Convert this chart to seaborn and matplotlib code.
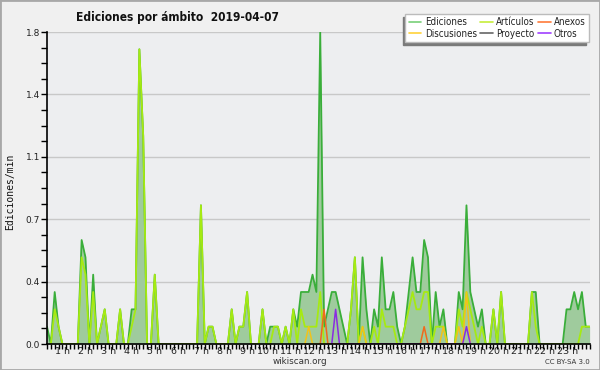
import numpy as np
import pandas as pd
import matplotlib
matplotlib.use("Agg")
import matplotlib.pyplot as plt
import matplotlib.transforms as mtransforms
from matplotlib.lines import Line2D
from matplotlib.patches import Rectangle
import seaborn as sns

# ---- data: 10-minute bins (edits per minute), 00:00 .. 23:30 ----
ediciones = [
    0.1, 0, 0.3, 0.1, 0, 0,        # 0 h
    0, 0, 0, 0.6, 0.5, 0,          # 1 h
    0.4, 0, 0.1, 0.2, 0, 0,        # 2 h
    0, 0.2, 0, 0, 0.2, 0.2,        # 3 h
    1.7, 1.2, 0, 0, 0.4, 0,        # 4 h
    0, 0, 0, 0, 0, 0,              # 5 h
    0, 0, 0, 0, 0.8, 0,            # 6 h
    0.1, 0.1, 0, 0, 0, 0,          # 7 h
    0.2, 0, 0.1, 0.1, 0.3, 0,      # 8 h
    0, 0, 0.2, 0, 0.1, 0.1,        # 9 h
    0.1, 0, 0.1, 0, 0.2, 0.1,      # 10 h
    0.3, 0.3, 0.3, 0.4, 0.3, 1.8,  # 11 h
    0.1, 0.2, 0.3, 0.3, 0.2, 0.1,  # 12 h
    0, 0.2, 0.5, 0, 0.5, 0.2,      # 13 h
    0, 0.2, 0.1, 0.5, 0.2, 0.2,    # 14 h
    0.3, 0.1, 0, 0.1, 0.3, 0.5,    # 15 h
    0.3, 0.3, 0.6, 0.5, 0, 0.3,    # 16 h
    0.1, 0.2, 0, 0, 0, 0.3,        # 17 h
    0.2, 0.8, 0.3, 0.2, 0.1, 0.2,  # 18 h
    0, 0, 0.2, 0, 0.3, 0,          # 19 h
    0, 0, 0, 0, 0, 0,              # 20 h
    0.3, 0.3, 0, 0, 0, 0,          # 21 h
    0, 0, 0, 0.2, 0.2, 0.3,        # 22 h
    0.2, 0.3, 0.1, 0.1,            # 23 h
]
articulos = [
    0, 0, 0.2, 0.1, 0, 0,
    0, 0, 0, 0.5, 0.4, 0,
    0.3, 0, 0.1, 0.2, 0, 0,
    0, 0.2, 0, 0, 0.1, 0.2,
    1.7, 1.2, 0, 0, 0.4, 0,
    0, 0, 0, 0, 0, 0,
    0, 0, 0, 0, 0.8, 0,
    0.1, 0.1, 0, 0, 0, 0,
    0.2, 0, 0.1, 0.1, 0.3, 0,
    0, 0, 0.2, 0, 0, 0.1,
    0.1, 0, 0.1, 0, 0.2, 0,
    0.2, 0.1, 0.1, 0.1, 0.1, 0.3,
    0, 0, 0, 0, 0, 0,
    0, 0.2, 0.5, 0, 0.1, 0,
    0, 0.1, 0, 0.2, 0.1, 0.1,
    0.1, 0, 0, 0.1, 0.2, 0.3,
    0.2, 0.2, 0.3, 0.3, 0, 0.1,
    0.1, 0.1, 0, 0, 0, 0.2,
    0.1, 0.3, 0.2, 0.1, 0, 0.1,
    0, 0, 0.2, 0, 0.3, 0,
    0, 0, 0, 0, 0, 0,
    0.3, 0.1, 0, 0, 0, 0,
    0, 0, 0, 0, 0, 0,
    0, 0.1, 0.1, 0.1,
]
discusiones_bins = [68, 82, 103, 107, 109]
discusiones_vals = [0.1, 0.1, 0.1, 0.1, 0.3]
anexos_bins = [72, 98]
anexos_vals = [0.2, 0.1]
otros_bins = [75, 109]
otros_vals = [0.2, 0.1]
proyecto_bins = []
proyecto_vals = []

hour_labels = [f"{h} h" for h in range(1, 24)]
y_ticks = [0.0, 0.36, 0.72, 1.08, 1.44, 1.8]
legend_names = ["Ediciones", "Discusiones", "Artículos", "Proyecto", "Anexos", "Otros"]

N = len(ediciones)
bins = np.arange(N)


def sparse(idx, vals):
    s = np.zeros(N)
    s[idx] = vals
    return s


def masked(v):
    v = np.asarray(v, dtype=float)
    keep = v > 0
    keep[1:] |= v[:-1] > 0
    keep[:-1] |= v[1:] > 0
    return np.where(keep, v, np.nan)


df = pd.DataFrame({
    "bin": bins,
    "Ediciones": ediciones,
    "Artículos": articulos,
    "Discusiones": sparse(discusiones_bins, discusiones_vals),
    "Anexos": sparse(anexos_bins, anexos_vals),
    "Otros": sparse(otros_bins, otros_vals),
    "Proyecto": sparse(proyecto_bins, proyecto_vals),
})

colors = {
    "Ediciones": "#3aae3a",
    "Artículos": "#a6ea12",
    "Discusiones": "#f2c21a",
    "Anexos": "#f06a1c",
    "Otros": "#8a2be2",
    "Proyecto": "#666666",
}
legend_colors = {
    "Ediciones": "#78d078",
    "Artículos": "#c6ee3a",
    "Discusiones": "#ffd23a",
    "Anexos": "#ff7a3a",
    "Otros": "#a040ff",
    "Proyecto": "#666666",
}

sns.set_theme(style="white")
plt.rcParams["font.family"] = ["DejaVu Sans"]

fig = plt.figure(figsize=(6.0, 3.7), dpi=100)
fig.patch.set_facecolor("#f0f0f0")
ax = fig.add_axes([47 / 600, 26 / 370, 543 / 600, 312 / 370])
ax.set_facecolor("#edeef0")

ax.fill_between(df["bin"], df["Ediciones"], 0, color="#9fcb9d", lw=0, zorder=1)

plot_df = df.copy()
for col in ["Ediciones", "Artículos", "Discusiones", "Anexos", "Otros", "Proyecto"]:
    plot_df[col] = masked(df[col])

order = [("Ediciones", 1.3, 3), ("Artículos", 1.3, 4), ("Proyecto", 1.1, 5),
         ("Discusiones", 1.1, 5), ("Anexos", 1.1, 6), ("Otros", 1.1, 6)]
for col, lw, z in order:
    sns.lineplot(data=plot_df, x="bin", y=col, ax=ax, color=colors[col],
                 lw=lw, zorder=z, estimator=None, legend=False)

ax.set_xlim(0, 141.1)
ax.set_ylim(0, 1.8)
ax.set_xlabel("")
ax.set_ylabel("")
fig.text(10 / 600, 1 - 192 / 370, "Ediciones/min", rotation=90, ha="center",
         va="center", fontsize=7, family="DejaVu Sans Mono", color="#111111")

ax.set_yticks(y_ticks)
ax.set_yticklabels([f"{v:.1f}" for v in y_ticks], fontsize=6.5, color="#222222")
ax.set_yticks(np.arange(0, 1.81, 0.09), minor=True)
ax.grid(axis="y", which="major", color="#c8c8c8", lw=1.0, zorder=0)
ax.set_axisbelow(True)

ax.set_xticks(np.arange(6, 141, 6))
ax.set_xticklabels(hour_labels, fontsize=6.8, color="#222222")
ax.set_xticks(np.arange(0, 142, 1), minor=True)
offset = mtransforms.ScaledTranslation(-1.5 / 72, 0, fig.dpi_scale_trans)
for lab in ax.get_xticklabels():
    lab.set_ha("right")
    lab.set_transform(lab.get_transform() + offset)

ax.tick_params(axis="x", which="both", direction="out", length=3.5, width=1,
               color="black", pad=-1.0, bottom=True)
ax.tick_params(axis="y", which="both", direction="out", length=4, width=1,
               color="black", pad=1, left=True)

for side in ["top", "right"]:
    ax.spines[side].set_visible(False)
for side in ["left", "bottom"]:
    ax.spines[side].set_color("black")
    ax.spines[side].set_linewidth(1.2)
    ax.spines[side].set_zorder(10)

fig.text(178 / 600, 1 - 17 / 370, "Ediciones por ámbito  2019-04-07",
         ha="center", va="center", fontsize=8.6, fontweight="bold",
         fontstretch="condensed", color="#111111")
fig.text(300 / 600, 1 - 362 / 370, "wikiscan.org", ha="center", va="center",
         fontsize=6.3, color="#333333")
fig.text(590 / 600, 1 - 362 / 370, "CC BY-SA 3.0", ha="right", va="center",
         fontsize=5, color="#333333")

handles = [Line2D([], [], color=legend_colors[n], lw=1.2) for n in legend_names]
leg = fig.legend(handles, legend_names, ncol=3, loc="upper right",
                 bbox_to_anchor=(594 / 600, 1 - 9 / 370),
                 prop={"size": 7.0, "stretch": "condensed"},
                 frameon=True, fancybox=False, edgecolor="#bbbbbb",
                 facecolor="white", framealpha=1, borderpad=0.35,
                 labelspacing=0.15, handlelength=1.3, handletextpad=0.35,
                 columnspacing=0.35,
                 shadow={"ox": -2, "oy": -2, "color": "#7a7a7a", "alpha": 1})
for t in leg.get_texts():
    t.set_color("#222222")

fig.patches.append(Rectangle((0, 0), 1, 1, transform=fig.transFigure, fill=False,
                             edgecolor="#a8a8a8", lw=2))

fig.savefig("out.png", dpi=100, facecolor=fig.get_facecolor())
